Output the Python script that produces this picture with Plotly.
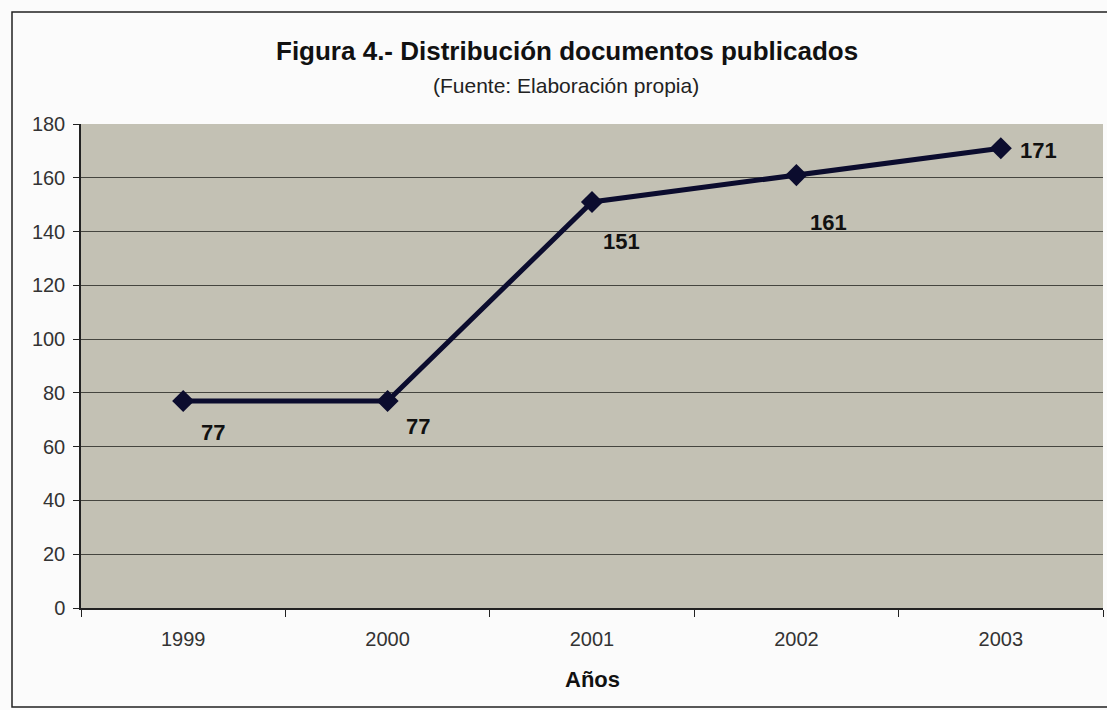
import plotly.graph_objects as go

years = ["1999", "2000", "2001", "2002", "2003"]
docs = [77, 77, 151, 161, 171]
label_dx = [30, 30, 29, 32, 38]
label_dy = [-32, -26, -40, -47, -2]

W, H = 1107, 710
ml, mr, mt, mb = 81, 4, 124, 102
FONT = "Liberation Sans, Arial, sans-serif"

fig = go.Figure()
fig.add_trace(go.Scatter(
    x=years, y=docs, mode="lines+markers",
    line=dict(color="#0b0c2e", width=5),
    marker=dict(symbol="diamond", size=17, color="#0b0c2e"),
    cliponaxis=False, hoverinfo="skip", showlegend=False,
))

for i, (y, dx, dy) in enumerate(zip(docs, label_dx, label_dy)):
    fig.add_annotation(x=i, y=y, xref="x", yref="y", text=f"<b>{y}</b>", showarrow=False,
                       xshift=dx, yshift=dy, xanchor="center", yanchor="middle",
                       font=dict(size=22, color="#111111", family=FONT))

pw = W - ml - mr
ph = H - mt - mb
def px(xp):
    return (xp - ml) / pw
def py(yp):
    return (H - mb - yp) / ph

fig.add_shape(type="rect", xref="paper", yref="paper",
              x0=px(12), x1=px(1130), y0=py(707), y1=py(12),
              line=dict(color="#222222", width=1.5), fillcolor="rgba(0,0,0,0)", layer="below")

fig.add_annotation(xref="paper", yref="paper", x=px(567), y=py(51), showarrow=False,
                   xanchor="center", yanchor="middle",
                   text="<b>Figura 4.- Distribución documentos publicados</b>",
                   font=dict(size=26, color="#111111", family=FONT))
fig.add_annotation(xref="paper", yref="paper", x=px(566), y=py(85), showarrow=False,
                   xanchor="center", yanchor="middle",
                   text="(Fuente: Elaboración propia)",
                   font=dict(size=21, color="#222222", family=FONT))
fig.add_annotation(xref="paper", yref="paper", x=px(592), y=py(679), showarrow=False,
                   xanchor="center", yanchor="middle",
                   text="<b>Años</b>",
                   font=dict(size=22, color="#111111", family=FONT))

fig.update_layout(
    width=W, height=H,
    margin=dict(l=ml, r=mr, t=mt, b=mb),
    paper_bgcolor="#fbfbfb",
    plot_bgcolor="#c3c1b4",
    font=dict(family=FONT, size=20, color="#222222"),
    xaxis=dict(
        type="category", tickson="boundaries", ticks="outside", ticklen=7,
        tickcolor="#222222", showline=True, linecolor="#222222", linewidth=1.5,
        showgrid=False, tickfont=dict(size=20, color="#333333"),
        ticklabelstandoff=12,
        range=[-0.5, 4.5],
    ),
    yaxis=dict(
        range=[0, 180], dtick=20, ticks="outside", ticklen=6, tickcolor="#222222",
        showline=True, linecolor="#222222", linewidth=1.5,
        showgrid=True, gridcolor="#45453f", gridwidth=1,
        tickfont=dict(size=20, color="#333333"), zeroline=False,
        ticklabelstandoff=4,
    ),
)

fig.write_html("out.html", config={"displayModeBar": False},
               post_script="document.body.style.margin='0';document.body.style.overflow='hidden';")
